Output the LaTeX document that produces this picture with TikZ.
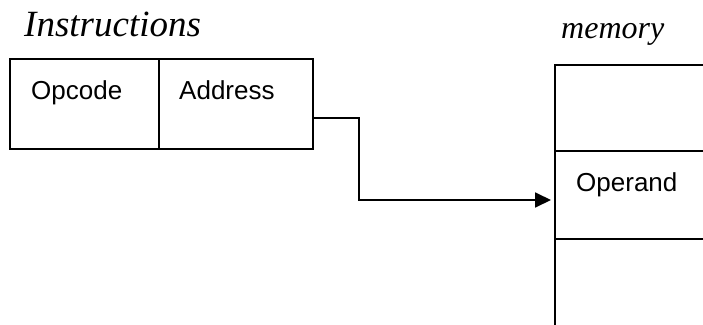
\documentclass[tikz,border=0pt]{standalone}
\usepackage{fontspec}
\setmainfont{Liberation Sans}
\newfontfamily\headfont{Liberation Serif}
\usetikzlibrary{arrows.meta,positioning}

\tikzset{
  cell/.style={draw, line width=1.8pt, inner sep=0pt, outer sep=0pt, anchor=north west},
  field/.style={font=\fontsize{26}{30}\selectfont, inner sep=0pt, anchor=base west},
  heading/.style={font=\headfont\itshape\fontsize{37}{44}\selectfont, inner sep=0pt, anchor=base west},
  link/.style={line width=1.8pt, -{Triangle[length=16pt,width=15pt]}, shorten >=4pt},
}

\begin{document}
\begin{tikzpicture}[x=1pt,y=-1pt]
   \path[use as bounding box] (0,0) rectangle (703,324);
   \clip (0,0) rectangle (703,324);
   % instruction word
   \node[heading] (instr) at (24,36) {Instructions};
   \node[cell, minimum width=149pt, minimum height=90pt] (opcode) at (10,59) {};
   \node[cell, minimum width=154pt, minimum height=90pt, right=0pt of opcode] (address) {};
   \node[field] (opcodetxt) at ([shift={(21,40)}]opcode.north west) {Opcode};
   \node[field] (addresstxt) at ([shift={(20,40)}]address.north west) {Address};
   % memory
   \node[heading, font=\headfont\itshape\fontsize{32}{38}\selectfont] (mem) at (561,38) {memory};
   \node[cell, minimum width=170pt, minimum height=86pt] (m1) at (555,65) {};
   \node[cell, minimum width=170pt, minimum height=88pt, below=0pt of m1] (m2) {};
   \node[cell, minimum width=170pt, minimum height=100pt, below=0pt of m2] (m3) {};
   \node[field] (operand) at ([shift={(21,40)}]m2.north west) {Operand};
   \draw[link] ([yshift=-14pt]address.east) -- ++(46,0) |- ([yshift=-5pt]m2.west);
\end{tikzpicture}
\end{document}
